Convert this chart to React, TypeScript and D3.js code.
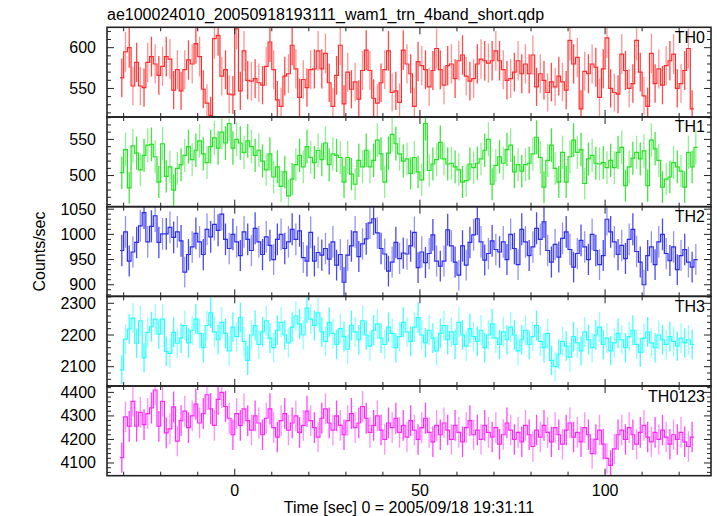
import React from 'react';
import * as d3 from 'd3';

const TITLE = 'ae100024010_20050918193111_wam1_trn_4band_short.qdp';
const X_LABEL = 'Time [sec] 0 = 2005/09/18 19:31:11';
const Y_LABEL = 'Counts/sec';
const T_START = -30.5; // centre of first 1-s bin
const X_DOMAIN = [-34.5, 128.6];
const X_MAJOR = [0, 50, 100];

const TH0 = [
  563,595,600,553,582,553,551,582,589,580,
  566,577,589,586,548,573,547,573,585,580,
  605,589,549,532,517,611,615,565,573,543,
  542,623,547,596,560,559,562,557,554,577,
  607,573,536,528,565,568,603,574,539,561,
  551,573,574,596,574,593,557,528,566,
  603,531,570,549,558,537,572,597,572,
  538,532,557,573,596,545,547,533,597,
  580,568,528,583,578,573,552,572,599,573,
  554,578,580,562,584,591,565,559,562,580,
  586,584,581,584,596,584,573,560,562,570,
  584,568,580,568,591,552,568,560,
  545,558,552,565,558,548,609,580,588,525,
  571,568,580,576,539,574,612,550,545,
  543,592,572,550,556,609,570,541,528,593,
  556,574,554,578,584,592,550,556,572,599,
  525
];

const TH1 = [
  504,536,483,541,531,508,528,542,543,526,491,544,499,512,480,510,
  515,528,540,522,535,548,530,518,540,552,
  538,560,545,572,538,550,545,532,548,540,
  528,535,520,508,530,498,512,485,505,472,
  495,515,528,512,540,525,518,535,522,545,
  515,530,528,
  525,491,525,502,488,521,512,535,512,521,
  549,530,491,531,557,544,530,520,523,503,
  525,505,494,572,507,516,522,546,523,
  516,517,512,508,491,493,516,511,517,523,
  535,550,488,514,526,517,536,542,505,515,
  506,515,517,530,553,525,484,521,542,510,
  491,532,491,526,549,532,536,489,523,528,
  517,516,518,511,521,511,532,539,486,512,
  524,532,523,534,486,549,537,521,484,
  495,498,518,512,506,484,532,512,539
];

const TH2 = [
  968,1005,947,965,984,1017,1043,985,1016,1037,984,1001,1001,1014,994,1005,
  987,925,960,975,1002,985,960,1010,995,1020,1008,1040,990,972,
  1000,985,958,1005,990,968,1012,985,960,995,978,950,990,1000,972,985,1010,990,
  1007,954,947,1004,947,964,959,972,951,985,
  939,960,905,959,977,1005,956,981,991,1023,
  1031,1003,972,961,927,945,984,952,963,961,
  977,1004,934,965,944,962,999,947,937,947,
  1009,977,945,919,977,939,984,999,1031,985,
  949,962,987,970,
  965,985,950,1000,972,940,1010,985,958,975,
  1012,990,1025,968,945,980,955,992,1005,970,
  935,962,988,975,950,1000,968,940,958,1030,
  1005,985,960,978,952,990,1010,966,945,900,
  958,975,940,985,1000,962,948,975,930,958,
  970,945,935,950
];

const TH3 = [
  2090,2187,2219,2253,2174,2245,2128,2208,2226,2250,2203,2250,2148,2142,2208,2174,
  2190,2230,2175,2215,2250,2205,2160,2230,2270,2210,
  2185,2240,2205,2150,2225,2195,2255,2180,2120,2200,
  2230,2170,2210,2245,2190,2160,2215,2240,2200,2175,
  2225,2260,2235,2200,2285,2250,2230,2270,2210,2180,
  2240,2205,2170,2220,2195,2155,2230,2210,2185,2245,
  2200,2165,2215,2235,2190,2170,2225,2205,2160,2195,
  2240,2210,2180,2225,2255,2200,2175,2215,2190,2150,
  2205,2230,2185,2210,2170,2240,2200,2165,2220,2195,
  2180,2215,2160,2200,2235,2190,2170,2210,2185,2225,
  2200,2150,2185,2215,2170,2195,2230,2180,2160,2205,
  2120,2100,2140,2180,2165,2130,2195,2175,2150,2210,
  2185,2160,2200,2225,2170,2190,2150,2175,2205,2185,
  2160,2195,2215,2170,2145,2190,2210,2175,2160,2200,
  2185,2170,2195,2180,2165,2190,2175,2185,2170
];

const TH0123 = [
  4123,4296,4256,4362,4256,4315,4263,4310,4334,4410,4256,4362,4228,4245,4338,4193,
  4280,4320,4250,4300,4350,4270,4310,4390,4330,4260,
  4370,4400,4340,4290,4220,4310,4260,4330,4280,4240,
  4300,4270,4220,4290,4330,4250,4210,4280,4310,4240,
  4270,4300,4230,4260,4320,4280,4250,4210,4290,4330,
  4270,4240,4300,4260,4220,4280,4310,4250,4270,4340,
  4290,4230,4260,4300,4240,4200,4270,4250,4290,4230,
  4260,4210,4280,4240,4200,4250,4290,4230,4190,4260,
  4220,4270,4240,4200,4260,4230,4190,4250,4280,4220,
  4240,4200,4260,4230,4210,4250,4180,4220,4270,4240,
  4200,4230,4190,4260,4220,4170,4240,4210,4260,4230,
  4190,4250,4220,4180,4240,4270,4210,4230,4190,4250,
  4220,4140,4200,4240,4180,4120,4090,4160,4220,4240,
  4200,4250,4220,4180,4230,4260,4210,4190,4230,4200,
  4240,4210,4180,4220,4200,4230,4190,4170,4210
];

const PANEL_NAMES = ['TH0', 'TH1', 'TH2', 'TH3', 'TH0123'];
const PANEL_VALUES = [TH0, TH1, TH2, TH3, TH0123];
const PANEL_COLORS = ['#ff2a2a', '#22e022', '#2a2af0', '#22ffff', '#ff22ff'];
const PANEL_DOMAINS = [[515, 625], [457, 581], [877, 1055], [2039, 2322], [4046, 4427]];
const PANEL_MAJOR = [50, 50, 50, 100, 100];
const PANEL_MINOR = [10, 10, 10, 20, 20];

const FONT = '"Liberation Sans", Arial, Helvetica, sans-serif';

export default function App() {
  const W = 717, H = 516;
  const left = 107, right = 711, top = 27.3, bottom = 475.7;
  const n = PANEL_NAMES.length;
  const ph = (bottom - top) / n;
  const x = d3.scaleLinear().domain(X_DOMAIN).range([left, right]);
  const xMinor = d3.range(-30, 129, 10);
  const frame = '#222';

  return (
    <svg width={W} height={H} style={{ position: 'absolute', left: 0, top: 0, background: '#fff' }}
      fontFamily={FONT}>
      <defs>
        {PANEL_NAMES.map((_, i) => (
          <clipPath id={`clip${i}`} key={i}>
            <rect x={left} y={top + i * ph} width={right - left} height={ph} />
          </clipPath>
        ))}
      </defs>
      <text x={left} y={19.5} fontSize={16} fill="#000">{TITLE}</text>
      {PANEL_NAMES.map((name, i) => {
        const vals = PANEL_VALUES[i];
        const y0 = top + i * ph, y1 = y0 + ph;
        const y = d3.scaleLinear().domain(PANEL_DOMAINS[i]).range([y1, y0]);
        const color = PANEL_COLORS[i];
        const pts: [number, number][] = [];
        vals.forEach((v, k) => {
          const t = T_START + k;
          pts.push([x(t - 0.5), y(v)]);
          pts.push([x(t + 0.5), y(v)]);
        });
        const stepPath = d3.line()(pts) || '';
        const [dlo, dhi] = PANEL_DOMAINS[i];
        const majors = d3.range(Math.ceil(dlo / PANEL_MAJOR[i]) * PANEL_MAJOR[i], dhi + 0.001, PANEL_MAJOR[i]);
        const minors = d3.range(Math.ceil(dlo / PANEL_MINOR[i]) * PANEL_MINOR[i], dhi + 0.001, PANEL_MINOR[i]);
        return (
          <g key={name}>
            <g clipPath={`url(#clip${i})`}>
              {vals.map((v, k) => {
                const t = T_START + k;
                const e = Math.sqrt(v);
                return (
                  <line key={k} x1={x(t)} x2={x(t)} y1={y(v - e)} y2={y(v + e)}
                    stroke={color} strokeWidth={1.3} strokeOpacity={k % 2 === 0 ? 0.85 : 0.5} />
                );
              })}
              <path d={stepPath} fill="none" stroke={color} strokeWidth={1.2} />
            </g>
            {minors.map(m => {
              const isMaj = majors.some(M => Math.abs(M - m) < 1e-6);
              const len = isMaj ? 7 : 4;
              return (
                <g key={`yt${m}`} stroke={frame} strokeWidth={1}>
                  <line x1={left} x2={left + len} y1={y(m)} y2={y(m)} />
                  <line x1={right} x2={right - len} y1={y(m)} y2={y(m)} />
                </g>
              );
            })}
            {majors.map(m => (
              <text key={`yl${m}`} x={96} y={y(m) + 5.5} fontSize={16} textAnchor="end" fill="#000">{m}</text>
            ))}
            {xMinor.map(t => {
              const isMaj = X_MAJOR.includes(t);
              const len = isMaj ? 7 : 4;
              return (
                <g key={`xt${t}`} stroke={frame} strokeWidth={1}>
                  <line x1={x(t)} x2={x(t)} y1={y0} y2={y0 + len} />
                  <line x1={x(t)} x2={x(t)} y1={y1} y2={y1 - len} />
                </g>
              );
            })}
            <rect x={left} y={y0} width={right - left} height={ph} fill="none" stroke={frame} strokeWidth={1.6} />
            <text x={705} y={y0 + 15.5} fontSize={16} textAnchor="end" fill="#000">{name}</text>
          </g>
        );
      })}
      {X_MAJOR.map(t => (
        <text key={`xl${t}`} x={x(t)} y={496} fontSize={16} textAnchor="middle" fill="#000">{t}</text>
      ))}
      <text x={(left + right) / 2} y={513} fontSize={16} textAnchor="middle" fill="#000">{X_LABEL}</text>
      <text transform={`translate(45,${(top + bottom) / 2}) rotate(-90)`} fontSize={16} textAnchor="middle" fill="#000">{Y_LABEL}</text>
    </svg>
  );
}
